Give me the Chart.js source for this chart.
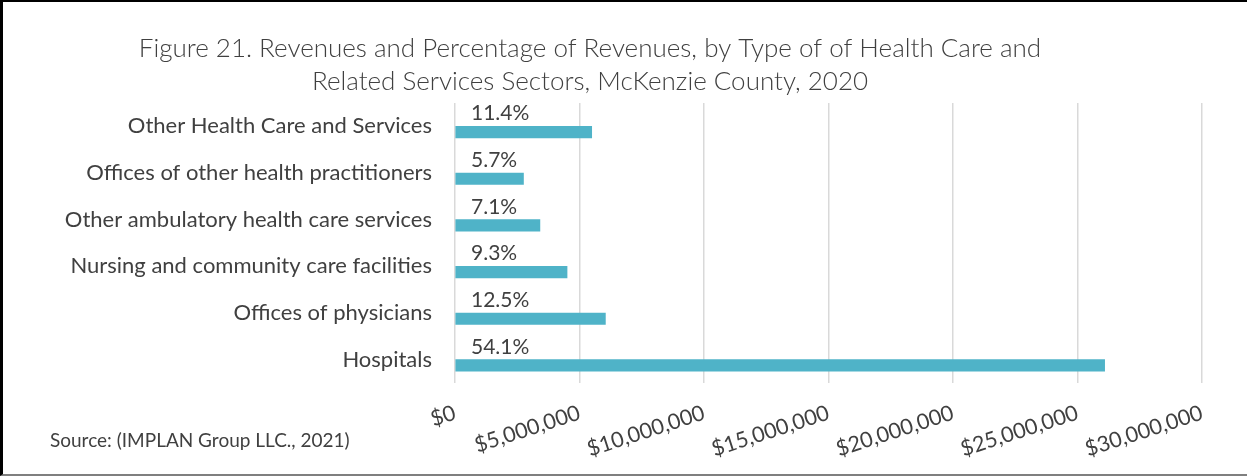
<!DOCTYPE html>
<html>
<head>
<meta charset="utf-8">
<script src="https://cdn.jsdelivr.net/npm/chart.js@4"></script>
<style>
  html, body { margin: 0; padding: 0; background: #fff; }
  #wrap { position: relative; width: 1247px; height: 476px; overflow: hidden; }
  #frame { position: absolute; left: 0; top: 0; width: 1247px; height: 476px; box-sizing: border-box;
           border-left: 3px solid #000; border-top: 2px solid #000; border-bottom: 2px solid #7f7f7f; pointer-events: none; }
  canvas { position: absolute; left: 0; top: 0; }
</style>
</head>
<body>
<div id="wrap">
  <canvas id="c" width="1247" height="476"></canvas>
  <div id="frame"></div>
</div>
<script>
const titleLines = [
  'Figure 21. Revenues and Percentage of Revenues, by Type of of Health Care and',
  'Related Services Sectors, McKenzie County, 2020'
];
const sourceNote = 'Source: (IMPLAN Group LLC., 2021)';
const categories = [
  'Other Health Care and Services',
  'Offices of other health practitioners',
  'Other ambulatory health care services',
  'Nursing and community care facilities',
  'Offices of physicians',
  'Hospitals'
];
const revenues = [5490000, 2750000, 3410000, 4500000, 6040000, 26090000];
const revenueShares = [11.4, 5.7, 7.1, 9.3, 12.5, 54.1];
const xTickLabels = ['$0', '$5,000,000', '$10,000,000', '$15,000,000', '$20,000,000', '$25,000,000', '$30,000,000'];

const TEXT = '#404040';
const FONT = 'Lato, "Open Sans", sans-serif';

const annotations = {
  id: 'annotations',
  afterDatasetsDraw(chart) {
    const ctx = chart.ctx;
    const meta = chart.getDatasetMeta(1);
    const x0 = chart.scales.x.getPixelForValue(0);
    ctx.save();
    ctx.fillStyle = TEXT;
    ctx.font = '21px ' + FONT;
    ctx.textAlign = 'left';
    ctx.textBaseline = 'alphabetic';
    meta.data.forEach((bar, i) => {
      const top = bar.y - bar.height / 2;
      ctx.fillText(revenueShares[i].toFixed(1) + '%', x0 + 16, top - 6);
    });
    ctx.restore();
  },
  afterDraw(chart) {
    const ctx = chart.ctx;
    ctx.save();
    ctx.fillStyle = TEXT;
    ctx.textAlign = 'center';
    ctx.textBaseline = 'alphabetic';
    ctx.font = '300 26px ' + FONT;
    ctx.fillText(titleLines[0], 590, 57);
    ctx.fillText(titleLines[1], 590, 90);
    ctx.textAlign = 'left';
    ctx.font = '19px ' + FONT;
    ctx.fillText(sourceNote, 50, 447);
    ctx.restore();
  }
};

new Chart(document.getElementById('c'), {
  type: 'bar',
  data: {
    labels: categories,
    datasets: [
      { label: 'Share of revenues', data: categories.map(() => null), backgroundColor: 'rgba(0,0,0,0)', barThickness: 11.5 },
      { label: 'Revenues', data: revenues, backgroundColor: '#4FB3C8', borderWidth: 0, barThickness: 11.5 }
    ]
  },
  options: {
    indexAxis: 'y',
    responsive: false,
    animation: false,
    devicePixelRatio: 1,
    layout: { padding: { top: 103, right: 45, left: 0, bottom: 0 } },
    plugins: { legend: { display: false }, title: { display: false }, tooltip: { enabled: false } },
    scales: {
      x: {
        min: 0, max: 30000000,
        border: { display: false },
        grid: { color: '#d9d9d9', lineWidth: 1.5, drawTicks: false },
        ticks: {
          stepSize: 5000000,
          autoSkip: false,
          minRotation: 18, maxRotation: 18,
          padding: 17,
          color: TEXT,
          font: { family: FONT, size: 21.5 },
          callback: (v, i) => xTickLabels[i]
        },
        afterFit(scale) { scale.height = 93; }
      },
      y: {
        border: { display: false },
        grid: { display: false, drawTicks: false },
        ticks: { color: TEXT, font: { family: FONT, size: 22 }, padding: 23 },
        afterFit(scale) { scale.width = 455; }
      }
    }
  },
  plugins: [annotations]
});
</script>
</body>
</html>
